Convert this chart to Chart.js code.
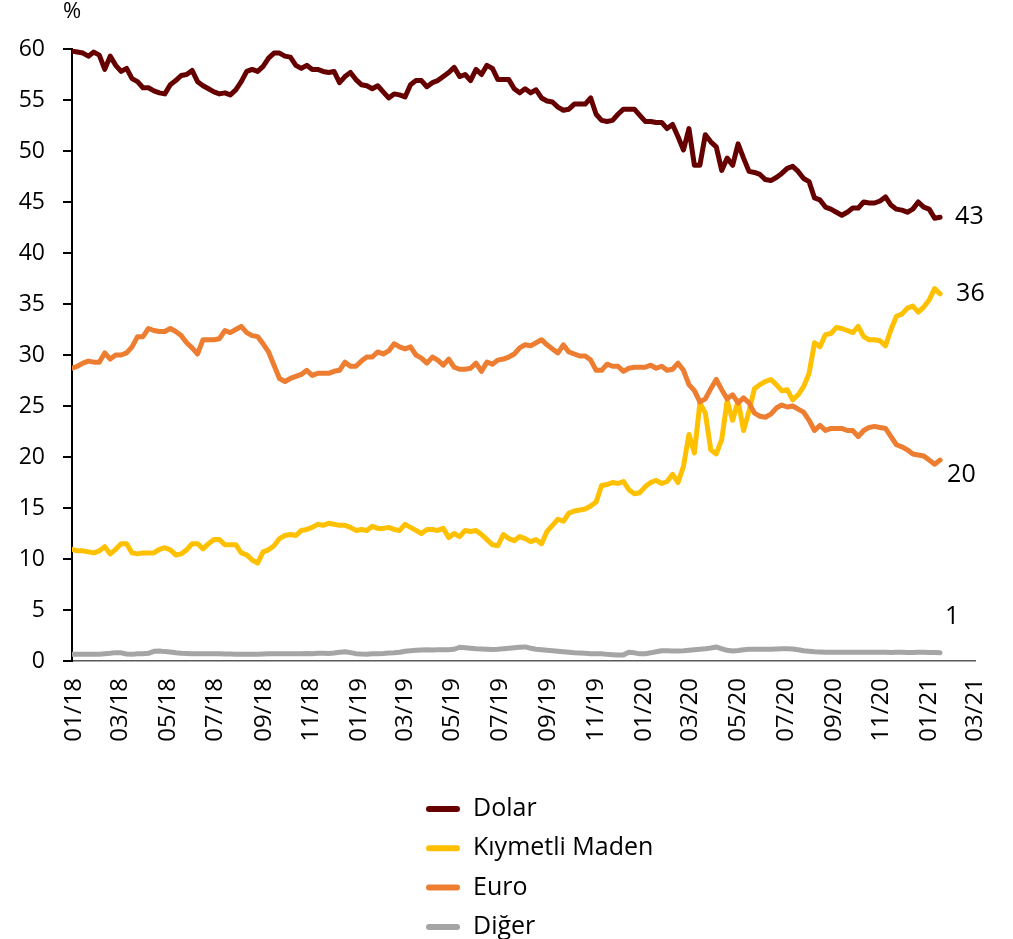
<!DOCTYPE html>
<html>
<head>
<meta charset="utf-8">
<script src="https://cdn.jsdelivr.net/npm/chart.js@4.4.1/dist/chart.umd.min.js"></script>
<style>
  body { margin: 0; background: #fff; }
</style>
</head>
<body>
<canvas id="chart" width="1013" height="939"></canvas>
<script>
// weekly data, first observation 29.12.2017
const startDate = [2017, 12, 29];
const tickLabels = ['01/18', '03/18', '05/18', '07/18', '09/18', '11/18', '01/19', '03/19', '05/19', '07/19',
  '09/19', '11/19', '01/20', '03/20', '05/20', '07/20', '09/20', '11/20', '01/21', '03/21'];

const seriesNames = ['Dolar', 'Kıymetli Maden', 'Euro', 'Diğer'];
const seriesColors = ['#660000', '#FFC000', '#ED7D31', '#A5A5A5'];
const endLabels = ['43', '36', '20', '1'];

const dolar = [
  59.8, 59.7, 59.6, 59.3, 59.7, 59.4, 58.0, 59.3, 58.4, 57.8, 58.1, 57.1, 56.8, 56.2, 56.2, 55.9, 55.7, 55.6, 56.5, 56.9,
  57.4, 57.5, 57.9, 56.8, 56.4, 56.1, 55.8, 55.6, 55.7, 55.5, 56.0, 56.8, 57.8, 58.0, 57.8, 58.3, 59.1, 59.6, 59.6, 59.3,
  59.2, 58.4, 58.1,
  58.4, 58.0, 58.0, 57.8, 57.7, 57.8, 56.7, 57.3, 57.7, 57.0, 56.5, 56.4, 56.1, 56.4, 55.8, 55.2, 55.6, 55.5, 55.3, 56.5,
  56.9, 56.9, 56.3, 56.7, 56.9, 57.3, 57.7, 58.2, 57.3, 57.5, 56.9, 58.0, 57.5, 58.4, 58.1, 57.0, 57.0, 57.0, 56.1, 55.7,
  56.1, 55.7, 56.0,
  55.2, 54.9, 54.8, 54.3, 54.0, 54.1, 54.6, 54.6, 54.6, 55.2, 53.6, 53.0, 52.9, 53.0, 53.6, 54.1, 54.1, 54.1, 53.5, 52.9,
  52.9, 52.8, 52.8, 52.2, 52.6, 51.4, 50.1, 52.2, 48.6, 48.6, 51.6, 50.9, 50.4, 48.1, 49.3, 48.6, 50.7, 49.3, 48.0, 47.9,
  47.7, 47.2, 47.1, 47.4,
  47.8, 48.3, 48.5, 48.0, 47.3, 47.0, 45.4, 45.2, 44.5, 44.3, 44.0, 43.7, 44.0, 44.4, 44.4, 45.0, 44.9, 44.9, 45.1, 45.5,
  44.7, 44.3, 44.2, 44.0, 44.3, 45.0, 44.5, 44.3, 43.4, 43.5
];

const kiymetliMaden = [
  10.95, 10.8, 10.8, 10.7, 10.6, 10.8, 11.2, 10.5, 10.95, 11.5, 11.5, 10.6, 10.5, 10.6, 10.6, 10.6, 10.95, 11.1, 10.9, 10.4,
  10.5, 10.9, 11.5, 11.5, 11.0, 11.5, 11.9, 11.9, 11.4, 11.4, 11.4, 10.6, 10.4, 9.9, 9.6, 10.7, 10.9, 11.3, 12.0, 12.3,
  12.4, 12.3, 12.8, 12.9,
  13.1, 13.4, 13.3, 13.5, 13.4, 13.3, 13.3, 13.1, 12.8, 12.9, 12.8, 13.2, 13.0, 13.0, 13.1, 12.9, 12.8, 13.4, 13.1, 12.8,
  12.5, 12.9, 12.9, 12.8, 13.0, 12.1, 12.5, 12.2, 12.8, 12.7, 12.8, 12.4, 11.9, 11.4, 11.3, 12.4, 12.0, 11.8, 12.2, 12.0,
  11.7, 11.9, 11.5,
  12.7, 13.3, 13.9, 13.7, 14.5, 14.7, 14.8, 14.9, 15.2, 15.6, 17.2, 17.3, 17.5, 17.4, 17.6, 16.8, 16.4, 16.5, 17.1, 17.5,
  17.7, 17.4, 17.6, 18.3, 17.5, 19.1, 22.2, 20.4, 25.3, 24.3, 20.7, 20.3, 21.7, 25.5, 23.6, 25.5, 22.6, 24.5, 26.7, 27.1,
  27.4, 27.6, 27.1, 26.5,
  26.6, 25.6, 26.1, 26.9, 28.2, 31.2, 30.8, 32.0, 32.1, 32.7, 32.6, 32.4, 32.2, 32.8, 31.8, 31.5, 31.5, 31.4, 30.9, 32.5,
  33.8, 34.0, 34.6, 34.8, 34.2, 34.7, 35.4, 36.5, 36.0
];

const euro = [
  28.7, 28.9, 29.2, 29.4, 29.3, 29.3, 30.2, 29.6, 30.0, 30.0, 30.2, 30.8, 31.8, 31.8, 32.6, 32.4, 32.3, 32.3, 32.6, 32.3,
  31.9, 31.2, 30.7, 30.1, 31.5, 31.5, 31.5, 31.6, 32.4, 32.2, 32.5, 32.8, 32.2, 31.9, 31.8, 31.1, 30.3, 29.0, 27.7, 27.4,
  27.7, 27.9, 28.1, 28.5,
  28.0, 28.2, 28.2, 28.2, 28.4, 28.5, 29.3, 28.9, 28.9, 29.4, 29.8, 29.8, 30.3, 30.1, 30.4, 31.1, 30.8, 30.6, 30.8, 30.0,
  29.7, 29.2, 29.8, 29.5, 29.0, 29.6, 28.8, 28.6, 28.6, 28.7, 29.2, 28.4, 29.3, 29.1, 29.5, 29.6, 29.8, 30.1, 30.7, 31.0,
  30.9, 31.2, 31.5,
  31.0, 30.6, 30.2, 31.0, 30.3, 30.1, 29.9, 29.9, 29.5, 28.5, 28.5, 29.1, 28.9, 28.9, 28.4, 28.7, 28.8, 28.8, 28.8, 29.0,
  28.7, 28.9, 28.5, 28.6, 29.2, 28.5, 27.1, 26.5, 25.4, 25.7, 26.7, 27.6, 26.6, 25.7, 26.1, 25.3, 25.8, 25.3, 24.3, 24.0,
  23.9, 24.2, 24.8, 25.1,
  24.9, 25.0, 24.7, 24.4, 23.6, 22.6, 23.1, 22.6, 22.8, 22.8, 22.8, 22.6, 22.6, 22.0, 22.6, 22.9, 23.0, 22.9, 22.8, 22.0,
  21.2, 21.0, 20.7, 20.3, 20.2, 20.1, 19.7, 19.3, 19.7
];

const diger = [
  0.65, 0.65, 0.65, 0.65, 0.65, 0.66, 0.7, 0.75, 0.82, 0.8,
  0.68, 0.65, 0.72, 0.72, 0.75, 0.95, 0.98, 0.92, 0.88, 0.8,
  0.76, 0.74, 0.72, 0.72, 0.7, 0.7, 0.7, 0.7, 0.68, 0.68,
  0.67, 0.66, 0.65, 0.65, 0.66, 0.68, 0.7, 0.7, 0.7, 0.72,
  0.7, 0.72, 0.72, 0.74, 0.72, 0.75, 0.76, 0.74, 0.78, 0.85,
  0.9, 0.82, 0.72, 0.68, 0.66, 0.7, 0.72, 0.74, 0.78, 0.8,
  0.85, 0.95, 1.0, 1.05, 1.08, 1.1, 1.08, 1.1, 1.1, 1.1,
  1.15, 1.35, 1.3, 1.25, 1.2, 1.18, 1.15, 1.12, 1.15, 1.2,
  1.25, 1.3, 1.35, 1.38, 1.25, 1.15, 1.1, 1.05, 1.0, 0.95,
  0.9, 0.85, 0.8, 0.78, 0.75, 0.72, 0.72, 0.7, 0.65, 0.62,
  0.6, 0.6, 0.85, 0.8, 0.7, 0.72, 0.8, 0.9, 1.0, 1.0,
  0.98, 0.98, 1.0, 1.05, 1.1, 1.15, 1.2, 1.28, 1.38, 1.2,
  1.05, 0.98, 1.02, 1.1, 1.15, 1.15, 1.15, 1.15, 1.16, 1.18,
  1.2, 1.2, 1.18, 1.1, 1.0, 0.95, 0.9, 0.88, 0.86, 0.85,
  0.85, 0.86, 0.86, 0.85, 0.85, 0.86, 0.87, 0.86, 0.85, 0.85,
  0.84, 0.85, 0.85, 0.84, 0.84, 0.85, 0.85, 0.84, 0.83, 0.82
];

const allSeries = [dolar, kiymetliMaden, euro, diger];

const FONT = "'Open Sans', 'Noto Sans', sans-serif";
const DAY = 86400000;
const t0 = Date.UTC(startDate[0], startDate[1] - 1, startDate[2]);

function dayOf(y, m, d) {
  return (Date.UTC(y, m - 1, d) - t0) / DAY;
}

const tickValues = tickLabels.map((lbl) => {
  const [mm, yy] = lbl.split('/');
  return dayOf(2000 + parseInt(yy, 10), parseInt(mm, 10), 1);
});

const datasets = allSeries.map((values, i) => ({
  label: seriesNames[i],
  data: values.map((v, w) => ({ x: w * 7, y: v })),
  borderColor: seriesColors[i],
  backgroundColor: seriesColors[i],
  borderWidth: 5,
  borderCapStyle: 'round',
  borderJoinStyle: 'round',
  pointRadius: 0,
  tension: 0,
  order: allSeries.length - i,
}));

// "%" unit, end-of-line values and the stacked legend under the axis
const decorations = {
  id: 'decorations',
  afterDatasetsDraw(chart) {
    const ctx = chart.ctx;
    const area = chart.chartArea;
    ctx.save();
    ctx.fillStyle = '#000';
    ctx.font = '22px ' + FONT;
    ctx.textAlign = 'center';
    ctx.textBaseline = 'middle';
    ctx.fillText('%', area.left, 12);

    const offsets = [[15, 0], [16, 0], [7, 15], [5, -36]];
    ctx.font = '25px ' + FONT;
    ctx.textAlign = 'left';
    chart.data.datasets.forEach((ds, i) => {
      const pts = chart.getDatasetMeta(i).data;
      const last = pts[pts.length - 1];
      ctx.fillText(endLabels[i], last.x + offsets[i][0], last.y + offsets[i][1]);
    });
    ctx.restore();
  },
  afterDraw(chart) {
    const ctx = chart.ctx;
    ctx.save();
    ctx.font = '25px ' + FONT;
    ctx.textBaseline = 'middle';
    ctx.textAlign = 'left';
    chart.data.datasets.forEach((ds, i) => {
      const y = 809 + i * 39.3;
      ctx.strokeStyle = ds.borderColor;
      ctx.lineWidth = 6;
      ctx.lineCap = 'round';
      ctx.beginPath();
      ctx.moveTo(429, y);
      ctx.lineTo(457, y);
      ctx.stroke();
      ctx.fillStyle = '#000';
      ctx.fillText(ds.label, 473, y);
    });
    ctx.restore();
  },
};

new Chart(document.getElementById('chart'), {
  type: 'line',
  data: { datasets },
  options: {
    responsive: false,
    animation: false,
    layout: { padding: { top: 49, right: 34, left: 0, bottom: 0 } },
    plugins: {
      legend: { display: false },
      tooltip: { enabled: false },
    },
    scales: {
      x: {
        type: 'linear',
        min: 0,
        max: dayOf(2021, 3, 1),
        afterBuildTicks: (scale) => {
          scale.ticks = tickValues.map((v) => ({ value: v }));
        },
        afterFit: (scale) => {
          scale.height = 278;
        },
        grid: { display: false },
        border: { display: true, color: '#595959', width: 1.5 },
        ticks: {
          autoSkip: false,
          minRotation: 90,
          maxRotation: 90,
          padding: 9,
          color: '#000',
          font: { family: FONT, size: 24 },
          callback: (v, idx) => tickLabels[idx],
        },
      },
      y: {
        min: 0,
        max: 60,
        afterFit: (scale) => {
          scale.width = 72;
        },
        grid: {
          drawOnChartArea: false,
          drawTicks: true,
          tickLength: 9,
          color: '#000',
          lineWidth: 2,
        },
        border: { display: true, color: '#000', width: 2 },
        ticks: {
          stepSize: 5,
          padding: 18,
          color: '#000',
          font: { family: FONT, size: 23 },
        },
      },
    },
  },
  plugins: [decorations],
});
</script>
</body>
</html>
